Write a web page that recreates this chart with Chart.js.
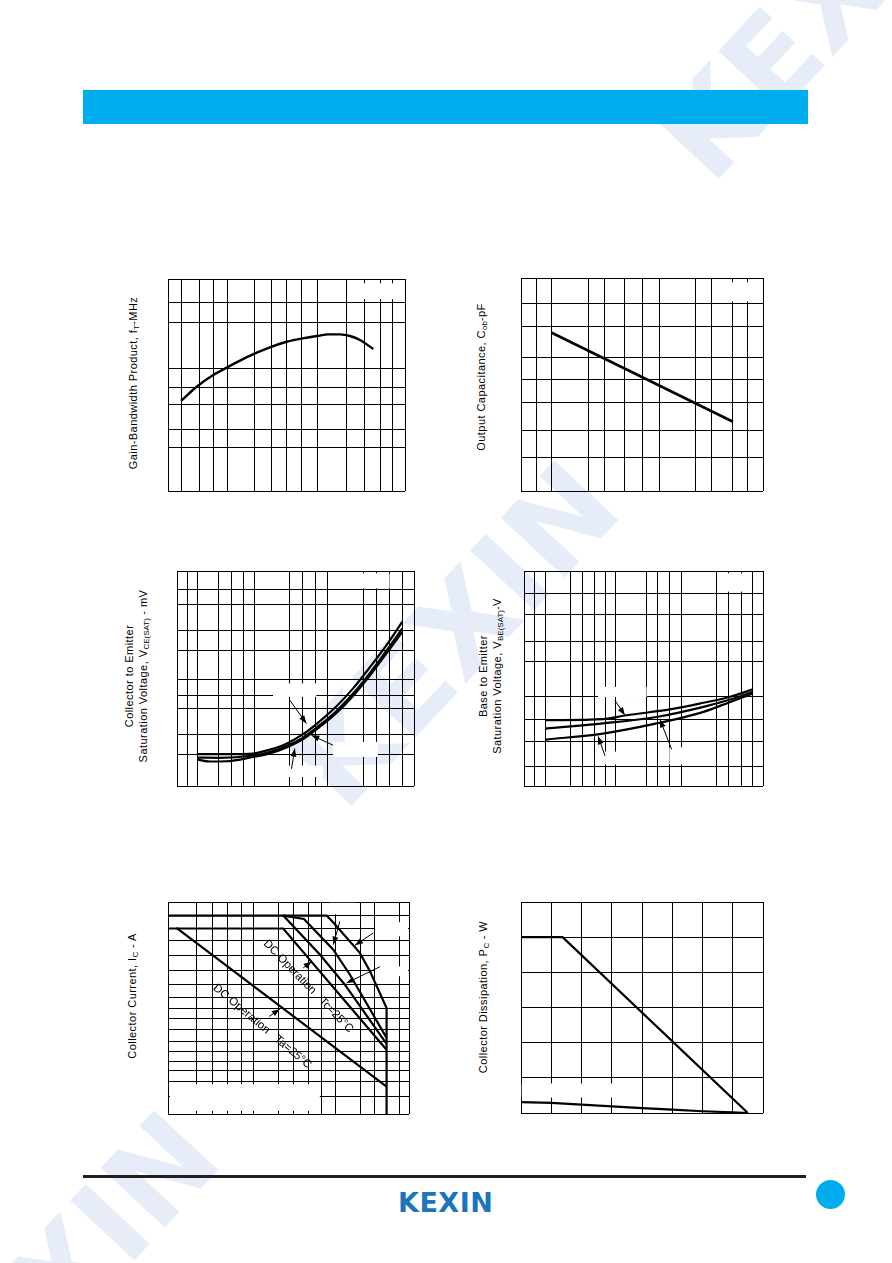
<!DOCTYPE html>
<html>
<head>
<meta charset="utf-8">
<title>KEXIN characteristic curves</title>
<script src="https://cdn.jsdelivr.net/npm/chart.js@4.4.1/dist/chart.umd.min.js"></script>
<style>
  html, body { margin: 0; padding: 0; background: #fff; }
  #page { position: relative; width: 892px; height: 1263px; overflow: hidden; background: #fff;
          font-family: "Liberation Sans", Arial, sans-serif; color: #000; }
  .wm { position: absolute; transform: translate(-50%, -50%) rotate(-47deg);
        font: bold 120px "DejaVu Sans", sans-serif; color: #e7edf8; white-space: nowrap; line-height: 1; }
  .plot { position: absolute; }
  .yt { position: absolute; transform: translate(-50%, -50%) rotate(-90deg); white-space: nowrap;
        font-size: 11px; line-height: 14px; text-align: center; letter-spacing: .45px; }
  .yt sub { font-size: 8px; vertical-align: -2px; line-height: 0; letter-spacing: 0; }
  #bar { position: absolute; left: 83px; top: 90px; width: 725px; height: 34px; background: #00aeef; }
  #rule { position: absolute; left: 83px; top: 1175px; width: 723px; height: 3px; background: #231f20; }
  #logo { position: absolute; left: 398px; top: 1189px; font: bold 27px "DejaVu Sans", sans-serif;
          line-height: 27px; color: #1b75bb; letter-spacing: .5px; }
  #dot { position: absolute; left: 816px; top: 1180px; width: 29px; height: 29px; border-radius: 50%; background: #00aeef; }
</style>
</head>
<body>
<div id="page">
  <div class="wm" style="left:455px;top:635px">KEXIN</div>
  <div class="wm" style="left:822px;top:8px">KEXIN</div>
  <div class="wm" style="left:55px;top:1285px">KEXIN</div>

  <div id="bar"></div>

  <div class="plot" style="left:165px;top:276px;width:244px;height:219px"><canvas id="ftChart"></canvas></div>
  <div class="plot" style="left:518px;top:275px;width:249px;height:220px"><canvas id="cobChart"></canvas></div>
  <div class="plot" style="left:174px;top:568px;width:244px;height:222px"><canvas id="vceChart"></canvas></div>
  <div class="plot" style="left:521px;top:568px;width:246px;height:222px"><canvas id="vbeChart"></canvas></div>
  <div class="plot" style="left:165px;top:899px;width:248px;height:219px"><canvas id="soaChart"></canvas></div>
  <div class="plot" style="left:518px;top:899px;width:249px;height:218px"><canvas id="pcChart"></canvas></div>

  <div class="yt" style="left:133px;top:383px">Gain-Bandwidth Product, f<sub>T</sub>-MHz</div>
  <div class="yt" style="left:481px;top:377px">Output Capacitance, C<sub>ob</sub>-pF</div>
  <div class="yt" style="left:136px;top:676px">Collector to Emitter<br>Saturation Voltage, V<sub>CE(SAT)</sub> - mV</div>
  <div class="yt" style="left:490px;top:676px">Base to Emitter<br>Saturation Voltage, V<sub>BE(SAT)</sub>-V</div>
  <div class="yt" style="left:132px;top:996px">Collector Current, I<sub>C</sub> - A</div>
  <div class="yt" style="left:483px;top:997px">Collector Dissipation, P<sub>C</sub> - W</div>

  <div id="rule"></div>
  <div id="logo">KEXIN</div>
  <div id="dot"></div>
</div>

<script>
// --- fT vs Ic (plot units 0..100, no printed ticks) ---
const ftGridX = [5.5, 13.1, 19.0, 24.9, 36.7, 43.5, 50.2, 56.5, 62.9, 75.5, 83.1, 89.5, 94.9];
const ftGridY = [20.4, 29.1, 40.9, 48.9, 57.9, 79.4, 89.0];
const ftIc = [5.5, 12.1, 19.1, 24.8, 30.4, 36.7, 43.0, 50.1, 56.7, 63.0, 67.6, 72.6, 76.8, 81.0, 86.6];
const ftVal = [42.5, 49.2, 54.7, 58.2, 61.5, 64.9, 67.8, 70.4, 72.0, 73.1, 73.9, 73.9, 73.1, 71.2, 67.0];

// --- Cob vs Vcb ---
const cobGridX = [6.5, 12.7, 27.8, 34.4, 42.9, 50.1, 57.1, 72.2, 78.9, 87.6, 93.8];
const cobGridY = [15.6, 28.2, 41.6, 52.4, 62.8, 77.2, 87.8];
const cobVcb = [12.7, 87.6];
const cobVal = [74.3, 32.5];

// --- VCE(sat) vs Ic, three temperatures ---
const vceGridX = [4.4, 8.6, 17.3, 23.0, 28.1, 32.8, 47.5, 52.9, 58.5, 63.7, 78.5, 84.1, 89.7, 95.1];
const vceGridY = [14.6, 23.9, 36.1, 42.3, 49.6, 62.9, 72.2, 84.5, 91.6];
const vceIcA = [8.6, 22.2, 32.1, 39.1, 46.2, 53.2, 60.2, 67.3, 74.3, 81.3, 88.4, 95.1];
const vceA = [14.8, 14.8, 15.1, 16.9, 19.7, 24.1, 30.1, 37.1, 45.4, 55.1, 65.5, 76.4];
const vceIcB = [8.6, 18.0, 32.1, 39.1, 46.2, 53.2, 60.2, 67.3, 74.3, 81.3, 88.4, 95.1];
const vceB = [13.2, 13.1, 14.2, 15.8, 18.6, 22.5, 28.3, 34.9, 43.0, 52.4, 62.9, 73.3];
const vceIcC = [8.6, 13.8, 20.8, 32.1, 39.1, 46.2, 53.2, 60.2, 67.3, 74.3, 81.3, 88.4, 95.1];
const vceC = [12.3, 11.4, 11.5, 13.5, 15.1, 17.9, 21.8, 27.5, 34.0, 41.9, 51.2, 61.7, 71.7];

// --- VBE(sat) vs Ic, three temperatures ---
const vbeGridX = [4.2, 9.1, 19.6, 24.5, 29.7, 33.9, 38.1, 51.3, 55.8, 60.8, 65.7, 80.7, 85.6, 90.8, 95.8];
const vbeGridY = [9.3, 20.5, 30.9, 41.5, 57.8, 67.4, 79.8, 89.6];
const vbeIcTop = [9.1, 33.1, 42.9, 61.1, 75.1, 86.3, 95.8];
const vbeTop = [30.6, 31.1, 32.9, 35.6, 38.7, 41.5, 45.0];
const vbeIc = [9.1, 33.1, 55.5, 75.1, 86.3, 95.8];
const vbeMid = [26.7, 29.1, 32.1, 36.8, 40.2, 43.8];
const vbeLow = [21.6, 24.4, 29.1, 34.5, 39.1, 43.0];

// --- Safe operating area ---
const soaGridX = [11.9, 18.4, 24.8, 30.4, 35.4, 46.0, 52.2, 58.5, 63.6, 69.7, 79.7, 85.5, 95.9];
const soaGridY = [8.2, 15.3, 20.3, 24.7, 29.4, 34.2, 39.7, 44.9, 50.0, 55.0, 61.0, 67.6, 74.7, 81.8, 87.7, 93.6];
const soaVceOuter = [0, 65.8, 68.6, 79.6, 83.8, 90.7, 90.7];
const soaIcOuter = [93.6, 93.6, 90.3, 76.0, 67.3, 50.0, 0];
const soaVceP2 = [47.8, 56.4, 68.6, 75.5, 90.7];
const soaIcP2 = [93.6, 92.0, 77.5, 65.7, 35.9];
const soaVceP1 = [47.8, 63.0, 73.4, 90.7];
const soaIcP1 = [93.6, 75.2, 61.0, 33.1];
const soaVceTc = [0, 47.8, 90.7];
const soaIcTc = [87.5, 87.5, 30.3];
const soaVceTa = [3.5, 90.7];
const soaIcTa = [87.8, 12.9];

// --- Pc vs temperature (deg C, W) ---
const pcTicksX = [20, 40, 60, 80, 100, 120, 140];
const pcTicksY = [5, 10, 15, 20, 25];
const pcTempCase = [0, 27.5, 150];
const pcCase = [25, 25, 0];
const pcTempAmb = [0, 20, 40, 60, 80, 100, 120, 140, 150];
const pcAmb = [1.55, 1.45, 1.2, 0.95, 0.7, 0.48, 0.25, 0.1, 0];

// blanked label areas, leader arrows and inline notes (in plot units)
const sheetMarks = {
  id: 'sheetMarks',
  beforeDatasetsDraw(chart, args, opts) {
    const { ctx, scales: { x, y } } = chart;
    ctx.save();
    ctx.fillStyle = '#fff';
    (opts.blanks || []).forEach(([x1, y1, x2, y2]) => {
      const a = x.getPixelForValue(x1), b = x.getPixelForValue(x2);
      const c = y.getPixelForValue(y1), d = y.getPixelForValue(y2);
      ctx.fillRect(Math.min(a, b), Math.min(c, d), Math.abs(b - a), Math.abs(d - c));
    });
    ctx.restore();
  },
  afterDatasetsDraw(chart, args, opts) {
    const { ctx, scales: { x, y } } = chart;
    ctx.save();
    ctx.strokeStyle = '#000';
    ctx.fillStyle = '#000';
    ctx.lineWidth = 1;
    (opts.arrows || []).forEach(([x1, y1, x2, y2]) => {
      const ax = x.getPixelForValue(x1), ay = y.getPixelForValue(y1);
      const bx = x.getPixelForValue(x2), by = y.getPixelForValue(y2);
      const ang = Math.atan2(by - ay, bx - ax);
      ctx.beginPath();
      ctx.moveTo(ax, ay);
      ctx.lineTo(bx, by);
      ctx.stroke();
      ctx.beginPath();
      ctx.moveTo(bx, by);
      ctx.lineTo(bx - 8 * Math.cos(ang) + 3 * Math.sin(ang), by - 8 * Math.sin(ang) - 3 * Math.cos(ang));
      ctx.lineTo(bx - 8 * Math.cos(ang) - 3 * Math.sin(ang), by - 8 * Math.sin(ang) + 3 * Math.cos(ang));
      ctx.closePath();
      ctx.fill();
    });
    ctx.font = '11.5px "Liberation Sans", Arial, sans-serif';
    ctx.textAlign = 'center';
    ctx.textBaseline = 'middle';
    (opts.notes || []).forEach(n => {
      ctx.save();
      ctx.translate(x.getPixelForValue(n.x), y.getPixelForValue(n.y));
      ctx.rotate(n.angle * Math.PI / 180);
      ctx.fillText(n.text, 0, 0);
      ctx.restore();
    });
    ctx.restore();
  }
};

function gridAxis(min, max, lines) {
  return {
    type: 'linear',
    min: min,
    max: max,
    border: { display: false },
    grid: { color: '#000', lineWidth: 1, drawTicks: false },
    ticks: { display: false },
    afterBuildTicks: axis => {
      axis.ticks = [min, ...lines, max].map(value => ({ value }));
    }
  };
}

function series(xs, ys, width) {
  return {
    data: xs.map((v, i) => ({ x: v, y: ys[i] })),
    borderColor: '#000',
    borderWidth: width,
    pointRadius: 0,
    fill: false
  };
}

function sheetChart(id, datasets, xAxis, yAxis, marks, smooth) {
  new Chart(document.getElementById(id), {
    type: 'line',
    data: { datasets: datasets },
    options: {
      responsive: true,
      maintainAspectRatio: false,
      animation: false,
      events: [],
      layout: { padding: { left: 3, top: 3, right: 4, bottom: 4 } },
      elements: { line: { tension: smooth ? 0.4 : 0, cubicInterpolationMode: smooth ? 'monotone' : 'default' } },
      plugins: {
        legend: { display: false },
        tooltip: { enabled: false },
        sheetMarks: marks || {}
      },
      scales: { x: xAxis, y: yAxis }
    },
    plugins: [sheetMarks]
  });
}

sheetChart('ftChart',
  [series(ftIc, ftVal, 2.4)],
  gridAxis(0, 100, ftGridX), gridAxis(0, 100, ftGridY),
  { blanks: [[77.5, 90.5, 97, 98]] }, true);

sheetChart('cobChart',
  [series(cobVcb, cobVal, 2.6)],
  gridAxis(0, 100, cobGridX), gridAxis(0, 100, cobGridY),
  { blanks: [[79, 89, 99, 98]] }, false);

sheetChart('vceChart',
  [series(vceIcA, vceA, 2.2), series(vceIcB, vceB, 2.2), series(vceIcC, vceC, 2.2)],
  gridAxis(0, 100, vceGridX), gridAxis(0, 100, vceGridY),
  {
    blanks: [[72.9, 91.9, 89.7, 98.9], [40.5, 41.5, 58.8, 47.7], [65.8, 13.5, 84.8, 20.5], [46.8, 4.2, 61.6, 9.5]],
    arrows: [[47.6, 39.9, 54.6, 29.1], [65.8, 19.0, 56.7, 23.6], [48.3, 8.0, 49.7, 17.4]]
  }, true);

sheetChart('vbeChart',
  [series(vbeIcTop, vbeTop, 2.2), series(vbeIc, vbeMid, 2.2), series(vbeIc, vbeLow, 2.2)],
  gridAxis(0, 100, vbeGridX), gridAxis(0, 100, vbeGridY),
  {
    blanks: [[81.4, 90.4, 94.7, 98.9], [31.0, 41.4, 51.3, 46.1], [29.7, 10.0, 38.9, 16.0], [60.8, 10.0, 68.1, 18.0]],
    arrows: [[38.0, 39.9, 42.2, 32.9], [61.8, 17.0, 56.9, 30.9], [33.9, 14.0, 31.0, 23.1]]
  }, true);

sheetChart('soaChart',
  [series(soaVceOuter, soaIcOuter, 2.2), series(soaVceP2, soaIcP2, 2.2), series(soaVceP1, soaIcP1, 2.2),
   series(soaVceTc, soaIcTc, 2.2), series(soaVceTa, soaIcTa, 2.2)],
  gridAxis(0, 100, soaGridX), gridAxis(0, 100, soaGridY),
  {
    blanks: [[67.0, 94.2, 78.0, 99.6], [85.9, 83.8, 99.6, 90.5], [85.9, 65.0, 99.6, 69.6], [0.8, 1.5, 63, 14.0]],
    arrows: [[71.3, 90.9, 68.6, 79.9], [85.2, 85.4, 77.6, 79.6], [88.0, 69.5, 74.1, 61.8], [56.1, 68.9, 59.6, 71.9], [42.0, 46.0, 46.4, 49.5]],
    notes: [
      { x: 58.2, y: 60.2, angle: 46, text: 'DC Operation   Tc=25°C' },
      { x: 39.1, y: 41.3, angle: 40, text: 'DC Operation   Ta=25°C' }
    ]
  }, false);

sheetChart('pcChart',
  [series(pcTempCase, pcCase, 2.2), series(pcTempAmb, pcAmb, 2.2)],
  gridAxis(0, 160, pcTicksX), gridAxis(0, 30, pcTicksY),
  { blanks: [[0.5, 2.2, 63, 4.2]] }, false);
</script>
</body>
</html>
